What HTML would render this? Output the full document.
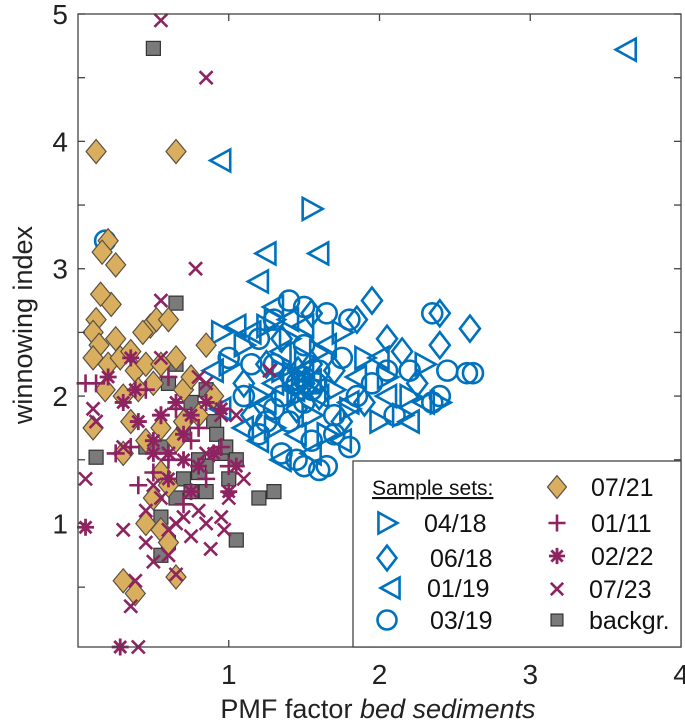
<!DOCTYPE html>
<html><head><meta charset="utf-8"><style>
html,body{margin:0;padding:0;background:#fff;}
svg{display:block;font-family:"Liberation Sans",Arial,sans-serif;}
</style></head><body>
<svg id="chart" width="685" height="726" viewBox="0 0 685 726">
<g id="marks"></g>
<g id="axes"></g>
<g id="legend"></g>
</svg>
<script>
// ---- data ----
const s0418 = [[1.55,3.47],[0.95,2.5],[1.25,2.55],[1.6,2.35],[1.9,2.3],[2.05,2.15],[1.1,2.4],[1.35,2.2],[1.45,2.0],[1.7,2.05],[2.2,2.0],[2.4,1.95],[1.3,1.75],[1.55,1.85],[1.8,1.9],[2.15,1.85],[1.0,2.25],[1.4,2.45],[1.65,1.7],[2.3,2.25],[1.2,2.0],[1.75,2.5],[2.0,1.8],[1.5,2.3],[1.3,2.6],[1.48,2.12],[1.52,2.05],[1.42,2.18]];
const s0618 = [[2.6,2.53],[2.4,2.65],[1.95,2.75],[1.85,2.6],[2.15,2.35],[1.35,2.45],[1.55,2.65],[1.7,2.2],[1.25,2.25],[1.6,2.0],[1.9,1.95],[2.25,2.1],[1.45,1.9],[1.1,2.1],[2.05,2.45],[1.4,2.15],[1.75,1.8],[2.4,2.4],[1.15,1.85],[1.55,2.25],[1.5,2.1],[1.46,2.2]];
const s0119 = [[3.64,4.72],[0.95,3.85],[1.25,3.12],[1.6,3.12],[1.2,2.9],[1.3,2.7],[1.4,2.6],[1.05,2.55],[1.15,2.5],[0.9,2.2],[1.35,2.35],[1.5,2.2],[1.6,2.0],[1.25,1.95],[1.1,1.75],[1.85,2.15],[2.05,2.0],[1.75,1.65],[2.3,1.95],[2.2,1.8],[1.45,1.7],[1.2,1.65],[0.95,1.9],[1.65,2.4],[2.0,2.3],[1.35,1.5],[1.55,1.55],[1.8,1.95],[1.5,2.55],[1.3,2.1],[1.55,2.12],[1.44,2.05]];
const s0319 = [[0.18,3.22],[1.5,2.7],[1.65,2.65],[1.3,2.6],[1.4,2.75],[1.8,2.6],[2.35,2.65],[1.2,2.45],[1.15,2.25],[1.0,2.3],[1.3,2.25],[1.5,2.4],[1.6,2.2],[1.75,2.3],[2.05,2.2],[2.2,2.2],[2.45,2.2],[2.58,2.18],[2.62,2.18],[2.4,2.0],[2.35,1.95],[1.3,1.9],[1.5,1.95],[1.7,1.85],[1.85,2.0],[1.4,1.8],[1.2,1.7],[1.55,1.65],[1.8,1.6],[1.35,1.55],[1.5,1.45],[1.6,1.42],[1.65,1.45],[1.45,1.5],[1.7,1.7],[1.25,1.8],[1.1,2.0],[2.1,1.85],[1.95,2.1],[1.55,2.05],[1.45,2.1],[1.35,2.0],[1.5,2.15],[1.58,2.1]];
const s0721 = [[0.12,3.92],[0.65,3.92],[0.2,3.22],[0.16,3.13],[0.25,3.03],[0.22,2.72],[0.12,2.6],[0.1,2.5],[0.14,2.4],[0.48,2.55],[0.43,2.5],[0.52,2.6],[0.6,2.6],[0.1,2.3],[0.2,2.25],[0.28,2.3],[0.35,2.35],[0.38,2.2],[0.45,2.25],[0.55,2.25],[0.65,2.3],[0.85,2.4],[0.18,2.05],[0.3,2.0],[0.4,2.05],[0.5,2.1],[0.7,2.05],[0.75,2.15],[0.1,1.75],[0.35,1.8],[0.45,1.65],[0.3,1.55],[0.55,1.75],[0.65,1.65],[0.8,1.85],[0.9,2.0],[0.55,1.4],[0.6,1.3],[0.5,1.2],[0.45,1.0],[0.55,0.95],[0.6,0.85],[0.65,0.58],[0.3,0.55],[0.38,0.45],[0.7,1.8],[0.25,2.45],[0.15,2.8]];
const sBack = [[0.5,4.73],[0.65,2.73],[0.12,1.52],[0.55,1.6],[0.65,2.25],[0.6,2.1],[0.75,1.95],[0.85,2.05],[0.9,1.8],[0.92,1.7],[0.8,1.5],[0.85,1.45],[0.7,1.35],[0.95,1.55],[0.98,1.6],[0.65,1.2],[0.75,1.25],[0.85,1.25],[1.0,1.35],[1.2,1.2],[1.3,1.25],[0.55,1.05],[0.6,0.85],[0.55,0.75],[1.05,0.87],[0.8,1.4],[0.7,1.7],[1.05,1.5],[0.45,1.6]];
const s0111 = [[0.12,2.1],[0.05,2.1],[0.6,2.15],[0.45,2.05],[0.25,1.55],[0.35,1.6],[0.55,1.85],[0.65,1.9],[0.75,1.65],[0.8,1.75],[0.9,1.55],[0.95,1.6],[0.85,1.35],[0.7,1.15],[0.5,1.4],[0.4,1.3],[1.0,1.45],[0.6,1.5]];
const s0222 = [[0.05,0.97],[0.28,0.03],[0.3,1.95],[0.38,2.05],[0.2,2.15],[0.4,1.8],[0.5,1.65],[0.55,1.85],[0.65,1.95],[0.75,1.85],[0.85,1.95],[0.95,1.9],[0.5,1.55],[0.6,1.55],[0.7,1.5],[0.8,1.45],[0.9,1.55],[1.05,1.45],[0.6,1.35],[1.0,1.25],[0.75,1.25],[0.7,1.7],[0.35,2.3]];
const s0723 = [[0.55,4.95],[0.85,4.5],[0.78,3.0],[0.55,2.75],[0.05,1.35],[0.1,1.9],[0.12,1.8],[0.3,1.6],[0.55,2.3],[0.8,2.15],[0.85,2.1],[1.27,2.2],[0.95,1.85],[0.6,1.55],[0.5,1.3],[0.45,1.1],[0.55,1.2],[0.7,1.05],[0.75,0.9],[0.65,1.0],[0.8,1.1],[0.85,1.0],[0.95,1.05],[0.97,0.95],[0.88,0.8],[0.6,0.75],[0.5,0.7],[0.38,0.55],[0.35,0.35],[0.4,0.03],[0.65,0.6],[1.0,1.2],[1.1,1.35],[0.3,0.95],[0.45,0.85],[0.6,0.95],[0.85,1.55],[1.05,1.85]];
const xTicks = [1,2,3,4];
const yTicks = [1,2,3,4,5];
const yMinor = [0.5,1.5,2.5,3.5,4.5];

// ---- scales ----
const L=78,R=681,T=14,B=647, X0=0,X1=4, Y0=0.03,Y1=5;
const sx=v=>L+(v-X0)/(X1-X0)*(R-L);
const sy=v=>B-(v-Y0)/(Y1-Y0)*(B-T);
const NS="http://www.w3.org/2000/svg";
function el(tag,attrs,parent){const e=document.createElementNS(NS,tag);for(const k in attrs)e.setAttribute(k,attrs[k]);parent.appendChild(e);return e;}
const BLUE="#0072bd",PUR="#8e2361",GOLD="#d9ae5f",GRAY="#7a7a7a";
function marker(type,cx,cy,parent,scale){
  const s=scale||1;let e;
  if(type==="tr"){e=el("polygon",{points:`${cx-9*s},${cy-11*s} ${cx+11*s},${cy} ${cx-9*s},${cy+11*s}`,fill:"none",stroke:BLUE,"stroke-width":2.6},parent);}
  else if(type==="tl"){e=el("polygon",{points:`${cx+9*s},${cy-11*s} ${cx-11*s},${cy} ${cx+9*s},${cy+11*s}`,fill:"none",stroke:BLUE,"stroke-width":2.6},parent);}
  else if(type==="db"){e=el("polygon",{points:`${cx},${cy-13*s} ${cx+10*s},${cy} ${cx},${cy+13*s} ${cx-10*s},${cy}`,fill:"none",stroke:BLUE,"stroke-width":2.6},parent);}
  else if(type==="ci"){e=el("circle",{cx:cx,cy:cy,r:10*s,fill:"none",stroke:BLUE,"stroke-width":2.6},parent);}
  else if(type==="dg"){e=el("polygon",{points:`${cx},${cy-12*s} ${cx+10*s},${cy} ${cx},${cy+12*s} ${cx-10*s},${cy}`,fill:GOLD,stroke:"#5a5040","stroke-width":1.2},parent);}
  else if(type==="sq"){e=el("rect",{x:cx-7*s,y:cy-7*s,width:14*s,height:14*s,fill:GRAY,stroke:"#333","stroke-width":1.2},parent);}
  else if(type==="pl"){e=el("path",{d:`M${cx-9*s},${cy}H${cx+9*s}M${cx},${cy-9*s}V${cy+9*s}`,stroke:PUR,"stroke-width":2.6,fill:"none"},parent);}
  else if(type==="as"){const r=8.5*s;e=el("path",{d:`M${cx-r},${cy}H${cx+r}M${cx},${cy-r}V${cy+r}M${cx-r*.7},${cy-r*.7}L${cx+r*.7},${cy+r*.7}M${cx-r*.7},${cy+r*.7}L${cx+r*.7},${cy-r*.7}`,stroke:PUR,"stroke-width":2.8,fill:"none"},parent);}
  else if(type==="xx"){const r=6.5*s;e=el("path",{d:`M${cx-r},${cy-r}L${cx+r},${cy+r}M${cx-r},${cy+r}L${cx+r},${cy-r}`,stroke:PUR,"stroke-width":2.6,fill:"none"},parent);}
  return e;
}
const marks=document.getElementById("marks");
const series=[["series-04-18",s0418,"tr"],["series-06-18",s0618,"db"],["series-01-19",s0119,"tl"],["series-03-19",s0319,"ci"],["series-backgr",sBack,"sq"],["series-07-21",s0721,"dg"],["series-01-11",s0111,"pl"],["series-02-22",s0222,"as"],["series-07-23",s0723,"xx"]];
series.forEach(([name,data,type])=>{
  const g=el("g",{},marks);
  
  
  data.forEach(p=>{
    const m=marker(type,sx(p[0]),sy(p[1]),g);
    
    
  });
});

// ---- axes ----
const ax=document.getElementById("axes");
const frame=el("rect",{x:L,y:T,width:R-L,height:B-T,fill:"none",stroke:"#444","stroke-width":1.3},ax);


xTicks.forEach(v=>{
  const x=sx(v);
  if(v<X1){el("line",{x1:x,y1:B,x2:x,y2:B-7,stroke:"#444","stroke-width":1.3},ax);el("line",{x1:x,y1:T,x2:x,y2:T+7,stroke:"#444","stroke-width":1.3},ax);}
  const t=el("text",{x:x,y:B+37,"text-anchor":"middle","font-size":28,fill:"#222"},ax);
  t.textContent=v;
  
  
});
yTicks.concat(yMinor).forEach(v=>{
  const y=sy(v);
  el("line",{x1:L,y1:y,x2:L+7,y2:y,stroke:"#444","stroke-width":1.3},ax);
  el("line",{x1:R,y1:y,x2:R-7,y2:y,stroke:"#444","stroke-width":1.3},ax);
});
yTicks.forEach(v=>{
  const t=el("text",{x:L-10,y:sy(v)+10,"text-anchor":"end","font-size":28,fill:"#222"},ax);
  t.textContent=v;
  
  
});
const xt=el("text",{x:378,y:718,"text-anchor":"middle","font-size":27,fill:"#222"},ax);
xt.innerHTML='PMF factor <tspan font-style="italic">bed sediments</tspan>';


const yt=el("text",{x:0,y:0,"text-anchor":"middle","font-size":27,fill:"#222",transform:"translate(32,325) rotate(-90)"},ax);
yt.textContent="winnowing index";



// ---- legend ----
const lg=document.getElementById("legend");
const box=el("rect",{x:353,y:461,width:R-353,height:B-461,fill:"#fff",stroke:"#444","stroke-width":1.3},lg);


const ttl=el("text",{x:372,y:495,"font-size":21,fill:"#111","text-decoration":"underline"},lg);
ttl.textContent="Sample sets:";


const legItems=[["tr",387,523,"04/18",424],["db",387,558,"06/18",430],["tl",391,588,"01/19",427],["ci",387,620,"03/19",430],["dg",557,487,"07/21",591],["pl",557,523,"01/11",591],["as",557,556,"02/22",591],["xx",557,589,"07/23",589],["sq",557,620,"backgr.",589]];
legItems.forEach(([type,mx,my,label,tx])=>{
  const g=el("g",{},lg);
  
  
  marker(type,mx,my,g,type==="sq"?0.85:0.95);
  const t=el("text",{x:tx,y:my+9,"font-size":25,fill:"#111"},g);
  t.textContent=label;
});
</script>
</body></html>
